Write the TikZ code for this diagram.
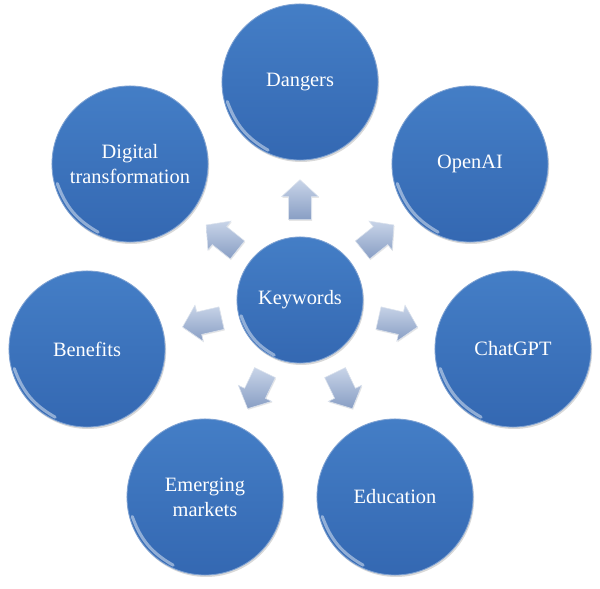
\documentclass[tikz,border=0pt]{standalone}
\usepackage{fontspec}
\setmainfont{Liberation Serif}
\usetikzlibrary{positioning,shadows,calc}
\definecolor{ballblue}{RGB}{58,112,186}
\definecolor{balltop}{RGB}{68,126,198}
\definecolor{ballbot}{RGB}{52,104,178}
\definecolor{arrtop}{RGB}{200,212,232}
\definecolor{arrbot}{RGB}{136,158,196}
\tikzset{
  bubble/.style={circle, minimum size=3.9cm, inner sep=0pt, top color=balltop, bottom color=ballbot,
    draw=ballblue!65!white, line width=0.6pt, text=white, align=center,
    font=\fontsize{14.5}{17.7}\selectfont,
    drop shadow={shadow xshift=0.8pt, shadow yshift=-1.4pt, opacity=0.3}},
  hub/.style={bubble, minimum size=3.15cm},
  arrowfill/.style={top color=arrtop, bottom color=arrbot, draw=white!70!arrbot, line width=0.4pt,
    drop shadow={shadow xshift=0.5pt, shadow yshift=-0.8pt, opacity=0.2}},
  rim/.style={white, opacity=0.45, line width=2.2pt, line cap=round},
  pics/blockarrow/.style={code={
    \path[arrowfill] (-20,-11.5) -- (3,-11.5) -- (3,-18.5) -- (20,0) -- (3,18.5) -- (3,11.5)
      -- (-20,11.5) -- cycle;}}
}
\begin{document}
\begin{tikzpicture}[x=0.025cm, y=-0.025cm]
  \useasboundingbox (0,0) rectangle (600,589);
  % centre and the seven keywords round it
  \node[hub] (kw) at (300,300) {Keywords};
  \node[bubble] (dng) at (300,82) {Dangers};
  \node[bubble] (oai) at (470,164) {OpenAI};
  \node[bubble] (gpt) at (513,349) {ChatGPT};
  \node[bubble] (edu) at (395,497) {Education};
  \node[bubble] (emk) at (205,497) {Emerging\\markets};
  \node[bubble] (ben) at (87,349) {Benefits};
  \node[bubble] (dig) at (130,164) {Digital\\transformation};
  % glassy rim, lower left
  \foreach \n in {kw,dng,oai,gpt,edu,emk,ben,dig}
    \draw[rim] ($(\n.195)!0.04!(\n.center)$) to[bend right=20] ($(\n.245)!0.04!(\n.center)$);
  % block arrows pointing outwards
  \foreach \n/\a in {dng/90, oai/38.57, gpt/-12.86, edu/-64.29, emk/-115.71, ben/192.86, dig/141.43}
    \pic[rotate=\a] (ar-\n) at ($(kw)!0.46!(\n)$) {blockarrow};
\end{tikzpicture}
\end{document}
